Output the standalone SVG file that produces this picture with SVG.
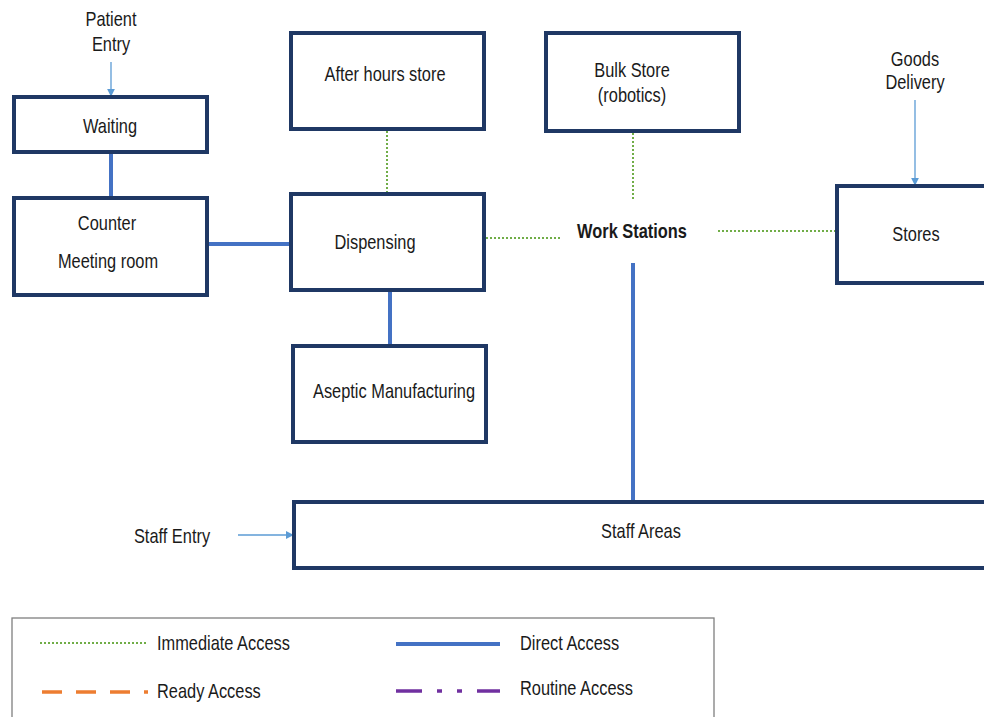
<svg xmlns="http://www.w3.org/2000/svg" width="984" height="717" viewBox="0 0 984 717">
  <style>
    .room { fill: #ffffff; stroke: #1f3864; stroke-width: 4; }
    .lbl { font-family: "Liberation Sans", Arial, sans-serif; font-size: 20px; fill: #1a1a1a; text-anchor: middle; }
    .lbl-l { text-anchor: start; }
    .bold { font-weight: bold; }
    .direct { stroke: #4472c4; stroke-width: 4; fill: none; }
    .immediate { stroke: #70ad47; stroke-width: 2; stroke-dasharray: 2 2; fill: none; }
    .ready { stroke: #ed7d31; stroke-width: 3.5; stroke-dasharray: 20 14; fill: none; }
    .routine { stroke: #7030a0; stroke-width: 3.5; stroke-dasharray: 26 15 5 15 5 15 40; fill: none; }
    .flow { stroke: #5b9bd5; stroke-width: 1.3; fill: none; marker-end: url(#arrow); }
  </style>
  <defs>
    <marker id="arrow" viewBox="0 0 10 10" refX="9" refY="5" markerWidth="8" markerHeight="8" markerUnits="userSpaceOnUse" orient="auto">
      <path d="M0,0 L10,5 L0,10 z" fill="#5b9bd5"/>
    </marker>
  </defs>

  <rect width="984" height="717" fill="#ffffff"/>

  <!-- connectors -->
  <g id="connectors">
    <line class="flow" x1="111" y1="62" x2="111" y2="96"/>
    <line class="flow" x1="915" y1="100" x2="915" y2="185"/>
    <line class="flow" x1="238" y1="535" x2="293" y2="535"/>
    <line class="direct" x1="111" y1="152" x2="111" y2="198"/>
    <line class="direct" x1="207" y1="244" x2="291" y2="244"/>
    <line class="direct" x1="390" y1="290" x2="390" y2="346"/>
    <line class="direct" x1="633" y1="263" x2="633" y2="502"/>
    <line class="immediate" x1="387" y1="131" x2="387" y2="192"/>
    <line class="immediate" x1="486" y1="238" x2="560" y2="238"/>
    <line class="immediate" x1="633" y1="133" x2="633" y2="200"/>
    <line class="immediate" x1="718" y1="231" x2="835" y2="231"/>
  </g>

  <!-- rooms; labels are drawn narrow with a horizontal scale -->
  <g id="patient-entry">
    <text class="lbl" transform="translate(111 26) scale(0.82 1)">Patient</text>
    <text class="lbl" transform="translate(111 51) scale(0.82 1)">Entry</text>
  </g>
  <g id="waiting">
    <rect class="room" x="14" y="97" width="193" height="55"/>
    <text class="lbl" transform="translate(110 133) scale(0.82 1)">Waiting</text>
  </g>
  <g id="counter">
    <rect class="room" x="14" y="198" width="193" height="97"/>
    <text class="lbl" transform="translate(107 230) scale(0.82 1)">Counter</text>
    <text class="lbl" transform="translate(108 268) scale(0.82 1)">Meeting room</text>
  </g>
  <g id="after-hours-store">
    <rect class="room" x="291" y="33" width="193" height="96"/>
    <text class="lbl" transform="translate(385 81) scale(0.82 1)">After hours store</text>
  </g>
  <g id="dispensing">
    <rect class="room" x="291" y="194" width="193" height="96"/>
    <text class="lbl" transform="translate(375 249) scale(0.82 1)">Dispensing</text>
  </g>
  <g id="aseptic">
    <rect class="room" x="293" y="346" width="193" height="96"/>
    <text class="lbl" transform="translate(394 398) scale(0.82 1)">Aseptic Manufacturing</text>
  </g>
  <g id="bulk-store">
    <rect class="room" x="546" y="33" width="193" height="98"/>
    <text class="lbl" transform="translate(632 77) scale(0.82 1)">Bulk Store</text>
    <text class="lbl" transform="translate(632 102) scale(0.82 1)">(robotics)</text>
  </g>
  <g id="work-stations">
    <text class="lbl bold" transform="translate(632 238) scale(0.82 1)">Work Stations</text>
  </g>
  <g id="goods-delivery">
    <text class="lbl" transform="translate(915 66) scale(0.82 1)">Goods</text>
    <text class="lbl" transform="translate(915 89) scale(0.82 1)">Delivery</text>
  </g>
  <g id="stores">
    <rect class="room" x="837" y="186" width="160" height="97"/>
    <text class="lbl" transform="translate(916 241) scale(0.82 1)">Stores</text>
  </g>
  <g id="staff-entry">
    <text class="lbl" transform="translate(172 543) scale(0.82 1)">Staff Entry</text>
  </g>
  <g id="staff-areas">
    <rect class="room" x="294" y="502" width="700" height="66"/>
    <text class="lbl" transform="translate(641 538) scale(0.82 1)">Staff Areas</text>
  </g>

  <!-- key -->
  <g id="legend">
    <rect x="12" y="618" width="702" height="110" fill="#ffffff" stroke="#7f7f7f" stroke-width="1.3"/>
    <line class="immediate" x1="40" y1="643" x2="146" y2="643"/>
    <text class="lbl lbl-l" transform="translate(157 650) scale(0.82 1)">Immediate Access</text>
    <line class="direct" x1="396" y1="644" x2="500" y2="644"/>
    <text class="lbl lbl-l" transform="translate(520 650) scale(0.82 1)">Direct Access</text>
    <line class="ready" x1="42" y1="692" x2="148" y2="692"/>
    <text class="lbl lbl-l" transform="translate(157 698) scale(0.82 1)">Ready Access</text>
    <line class="routine" x1="396" y1="691" x2="500" y2="691"/>
    <text class="lbl lbl-l" transform="translate(520 695) scale(0.82 1)">Routine Access</text>
  </g>
</svg>
